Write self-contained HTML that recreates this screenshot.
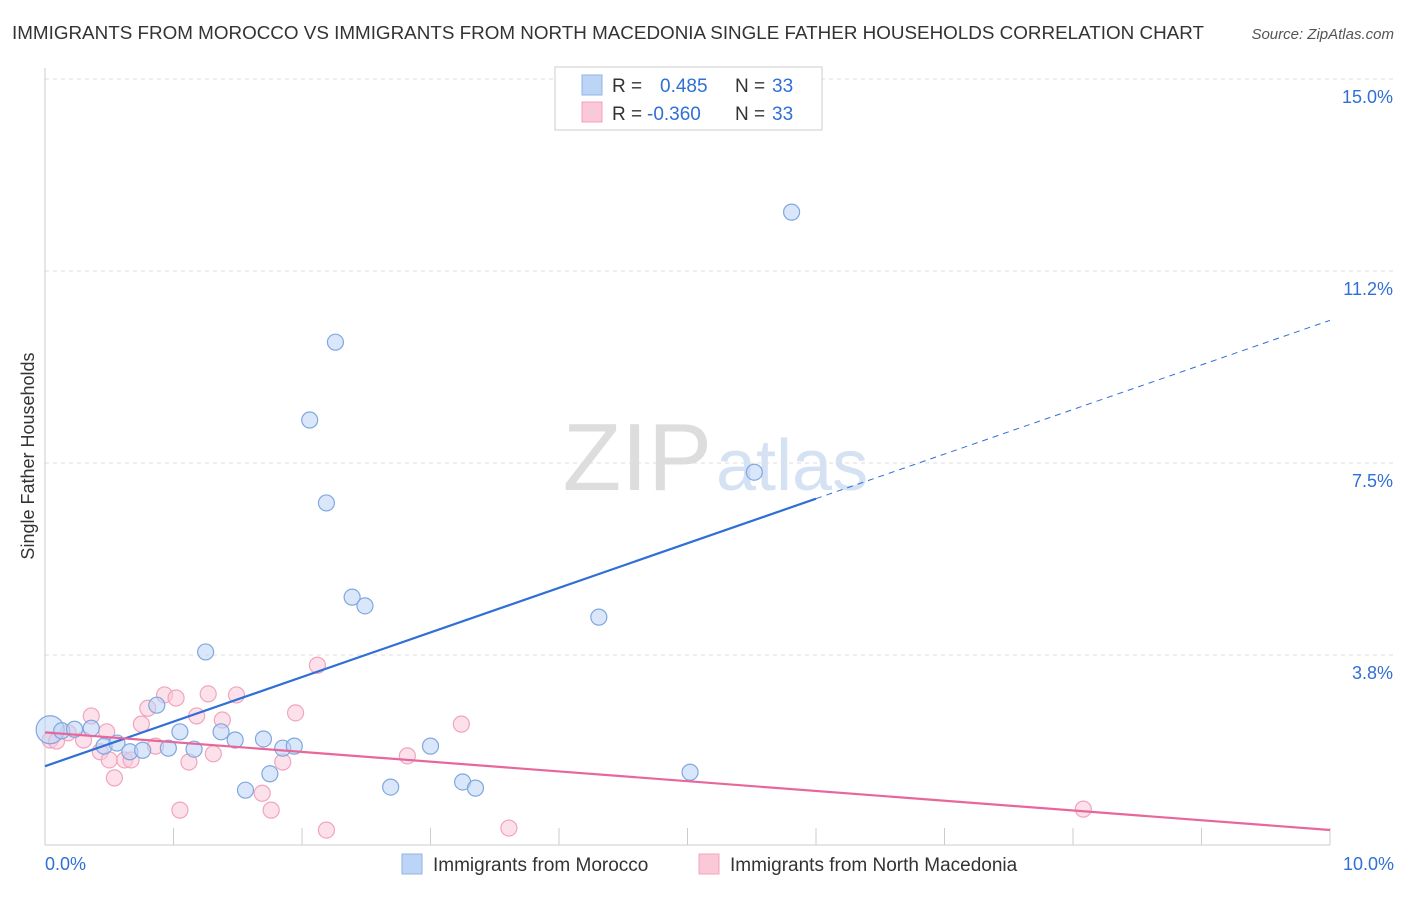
<!DOCTYPE html>
<html><head><meta charset="utf-8">
<style>
body{margin:0;background:#fff;font-family:"Liberation Sans",sans-serif;}
svg text{font-family:"Liberation Sans",sans-serif;}
</style></head>
<body>
<svg id="chart" width="1406" height="892" xmlns="http://www.w3.org/2000/svg">
<text x="12" y="39" font-size="18.5" fill="#333" textLength="1192" lengthAdjust="spacingAndGlyphs">IMMIGRANTS FROM MOROCCO VS IMMIGRANTS FROM NORTH MACEDONIA SINGLE FATHER HOUSEHOLDS CORRELATION CHART</text>
<text x="1394" y="39" font-size="15" fill="#555" text-anchor="end" font-style="italic">Source: ZipAtlas.com</text>
<text x="712" y="490" font-size="96" text-anchor="end" fill="#ddd" font-family="Liberation Serif">ZIP</text>
<text x="716" y="490" font-size="72" fill="#d4e2f4">atlas</text>
<text transform="translate(34,456) rotate(-90)" font-size="18" fill="#333" text-anchor="middle">Single Father Households</text>
<g id="grid"></g>
<g id="marks"></g>
<g>
<rect x="555" y="67" width="267" height="63" fill="#fff" stroke="#ccc"/>
<rect x="582" y="75" width="20" height="20" fill="#bcd4f6" stroke="#8fb3e6"/>
<rect x="582" y="102" width="20" height="20" fill="#fbc8d8" stroke="#f0a5bd"/>
<text x="612" y="92" font-size="19" fill="#333">R =</text>
<text x="660" y="92" font-size="19" fill="#2f6fd6">0.485</text>
<text x="735" y="92" font-size="19" fill="#333">N =</text>
<text x="772" y="92" font-size="19" fill="#2f6fd6">33</text>
<text x="612" y="120" font-size="19" fill="#333">R =</text>
<text x="647" y="120" font-size="19" fill="#2f6fd6">-0.360</text>
<text x="735" y="120" font-size="19" fill="#333">N =</text>
<text x="772" y="120" font-size="19" fill="#2f6fd6">33</text>
</g>
<g>
<rect x="402" y="854" width="20" height="20" fill="#bcd4f6" stroke="#8fb3e6"/>
<text x="433" y="871" font-size="19" fill="#333">Immigrants from Morocco</text>
<rect x="699" y="854" width="20" height="20" fill="#fbc8d8" stroke="#f0a5bd"/>
<text x="730" y="871" font-size="19" fill="#333">Immigrants from North Macedonia</text>
</g>
</svg>
<script>
const xTicks=[0,1,2,3,4,5,6,7,8,9,10];
const yTicks=[3.75,7.5,11.25,15];
const yTickLabels=["3.8%","7.5%","11.2%","15.0%"];
const xEndLabels=["0.0%","10.0%"];
const blueX=[0.04,0.13,0.23,0.36,0.46,0.56,0.66,0.76,0.87,0.96,1.05,1.16,1.25,1.37,1.48,1.56,1.70,1.75,1.85,1.94,2.06,2.19,2.26,2.39,2.49,2.69,3.00,3.25,3.35,4.31,5.02,5.52,5.81];
const blueY=[2.29,2.27,2.30,2.32,1.97,2.03,1.86,1.89,2.77,1.93,2.25,1.91,3.81,2.25,2.09,1.11,2.11,1.43,1.93,1.97,8.34,6.72,9.86,4.88,4.71,1.17,1.97,1.27,1.15,4.49,1.46,7.32,12.40];
const pinkX=[0.04,0.09,0.18,0.30,0.36,0.43,0.48,0.50,0.54,0.62,0.67,0.75,0.80,0.86,0.93,1.02,1.05,1.12,1.18,1.27,1.31,1.38,1.49,1.69,1.76,1.85,1.95,2.12,2.19,2.82,3.24,3.61,8.08];
const pinkY=[2.09,2.07,2.23,2.09,2.56,1.86,2.25,1.70,1.35,1.70,1.70,2.40,2.71,1.97,2.97,2.91,0.72,1.66,2.56,2.99,1.82,2.48,2.97,1.05,0.72,1.66,2.62,3.55,0.33,1.78,2.40,0.37,0.74];
const X=v=>45+v*128.5, Y=v=>847-v*51.2;
const NS="http://www.w3.org/2000/svg";
function mk(tag,attrs,parent){const e=document.createElementNS(NS,tag);for(const k in attrs)e.setAttribute(k,attrs[k]);parent.appendChild(e);return e;}
const grid=document.getElementById('grid'), marks=document.getElementById('marks');
yTicks.forEach((t,i)=>{
 const l=mk('line',{x1:45,x2:1394,y1:Y(t),y2:Y(t),stroke:'#ddd','stroke-dasharray':'4,4'},grid);
 
 
 const tx=mk('text',{x:1393,y:Y(t)+24,'font-size':18,fill:'#2f6fd6','text-anchor':'end'},grid);
 tx.textContent=yTickLabels[i];
 
 
});
const ax=mk('line',{x1:45,x2:1330,y1:845,y2:845,stroke:'#ccc'},grid);


const ay=mk('line',{x1:45,x2:45,y1:68,y2:845,stroke:'#ccc'},grid);


xTicks.forEach(t=>{
 const l=mk('line',{x1:X(t),x2:X(t),y1:828,y2:845,stroke:'#ccc'},grid);
 
 
});
[[0,45,'start'],[1,1394,'end']].forEach(([i,x,a])=>{
 const tx=mk('text',{x:x,y:870,'font-size':18,fill:'#2f6fd6','text-anchor':a},grid);
 tx.textContent=xEndLabels[i];
 
 
});
function fit(xs,ys){const n=xs.length;let mx=0,my=0;for(let i=0;i<n;i++){mx+=xs[i];my+=ys[i];}mx/=n;my/=n;let sxy=0,sxx=0;for(let i=0;i<n;i++){sxy+=(xs[i]-mx)*(ys[i]-my);sxx+=(xs[i]-mx)**2;}const b=sxy/sxx;return [my-b*mx,b];}
function pts(xs,ys,fill,stroke,name){
 xs.forEach((x,i)=>{
  const r=(i===0&&name==='morocco-point')?14:8;
  const c=mk('circle',{cx:X(x),cy:Y(ys[i]),r:r,fill:fill,'fill-opacity':0.55,stroke:stroke,'stroke-width':1.2},marks);
  
  
 });
}
pts(pinkX,pinkY,'#fbc8d8','#f0a5bd','north-macedonia-point');
pts(blueX,blueY,'#bcd4f6','#7fa8e0','morocco-point');
const [ba,bb]=fit(blueX,blueY);
const bl=mk('line',{x1:X(0),y1:Y(ba),x2:X(6),y2:Y(ba+bb*6),stroke:'#2f6fd6','stroke-width':2.2},marks);


const bd=mk('line',{x1:X(6),y1:Y(ba+bb*6),x2:X(10),y2:Y(ba+bb*10),stroke:'#2f6fd6','stroke-width':1,'stroke-dasharray':'6,5'},marks);


const [pa,pb]=fit(pinkX,pinkY);
const pl=mk('line',{x1:X(0),y1:Y(pa),x2:X(10),y2:Y(pa+pb*10),stroke:'#e8679a','stroke-width':2.2},marks);


</script>
</body></html>
